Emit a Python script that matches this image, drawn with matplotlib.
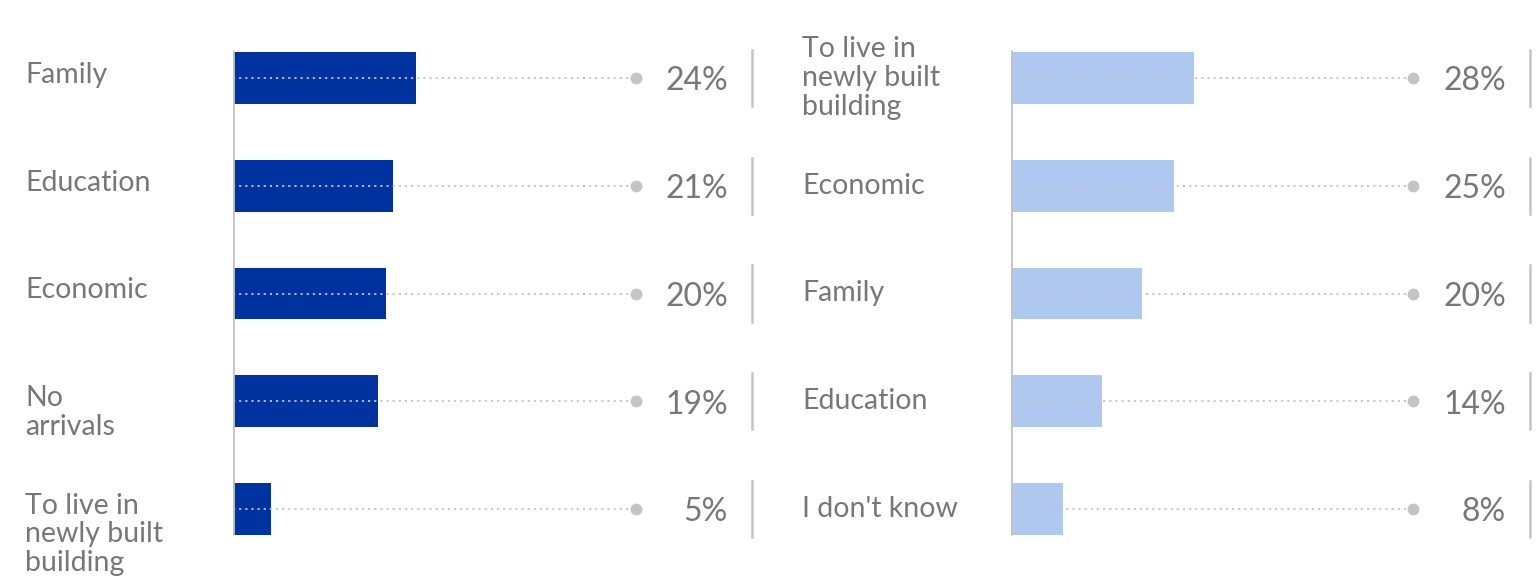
import matplotlib
matplotlib.use("Agg")
import matplotlib.pyplot as plt
import matplotlib.transforms as mtransforms

plt.rcParams['font.family'] = ['Lato', 'DejaVu Sans']

left_labels = ['Family', 'Education', 'Economic', 'No\narrivals', 'To live in\nnewly built\nbuilding']
left_values = [24, 21, 20, 19, 5]
right_labels = ['To live in\nnewly built\nbuilding', 'Economic', 'Family', 'Education', "I don't know"]
right_values = [28, 25, 20, 14, 8]

W, H = 1536, 577
TEXT = '#77777b'
GRID = '#c4c4c8'

fig = plt.figure(figsize=(W / 100, H / 100), dpi=100)


def panel(x0, x1, label_x, value_x, sep_x, labels, values, color, label_top):
    # axes in pixel box: bars start at x0, dotted leader ends at x1
    ax = fig.add_axes([x0 / W, 1 - 563 / H, (x1 - x0) / W, (563 - 24) / H])
    n = len(values)
    ys = list(range(n))
    xmax = max(values) * 2.2
    ax.set_xlim(0, xmax)
    ax.set_ylim(n - 0.5, -0.5)
    ax.axis('off')

    ax.barh(ys, values, height=0.48, color=color, zorder=2)
    ax.plot([0, 0], [-0.26, n - 1 + 0.24], color=GRID, lw=2, zorder=3,
            solid_capstyle='butt')
    for y in ys:
        ax.plot([0, xmax], [y, y], color=GRID, lw=1.3, ls=(0, (1.2, 2.2)),
                zorder=4, clip_on=False)
        ax.plot([xmax], [y], 'o', color=GRID, ms=7.5, zorder=4, clip_on=False)

    tr = mtransforms.blended_transform_factory(fig.transFigure, ax.transData)
    for y, lab, v in zip(ys, labels, values):
        ax.text(value_x / W, y + 0.03, f'{v}%', transform=tr, ha='right',
                va='center', fontsize=23, color=TEXT)
        ax.plot([sep_x / W, sep_x / W], [y - 0.26, y + 0.26], transform=tr,
                color=GRID, lw=1.8, clip_on=False)
        if label_top:
            ax.text(label_x / W, y - 0.15, lab, transform=tr, ha='left',
                    va='top', fontsize=20.5, color=TEXT, linespacing=1.12)
        else:
            ax.text(label_x / W, y, lab, transform=tr, ha='left',
                    va='center', fontsize=20.5, color=TEXT, linespacing=1.15)
    return ax


panel(233, 636, 25, 728, 752, left_labels, left_values, '#0033a0', True)
panel(1011, 1413, 802, 1506, 1530, right_labels, right_values, '#aec8f0', False)

fig.savefig('out.png', dpi=100)
